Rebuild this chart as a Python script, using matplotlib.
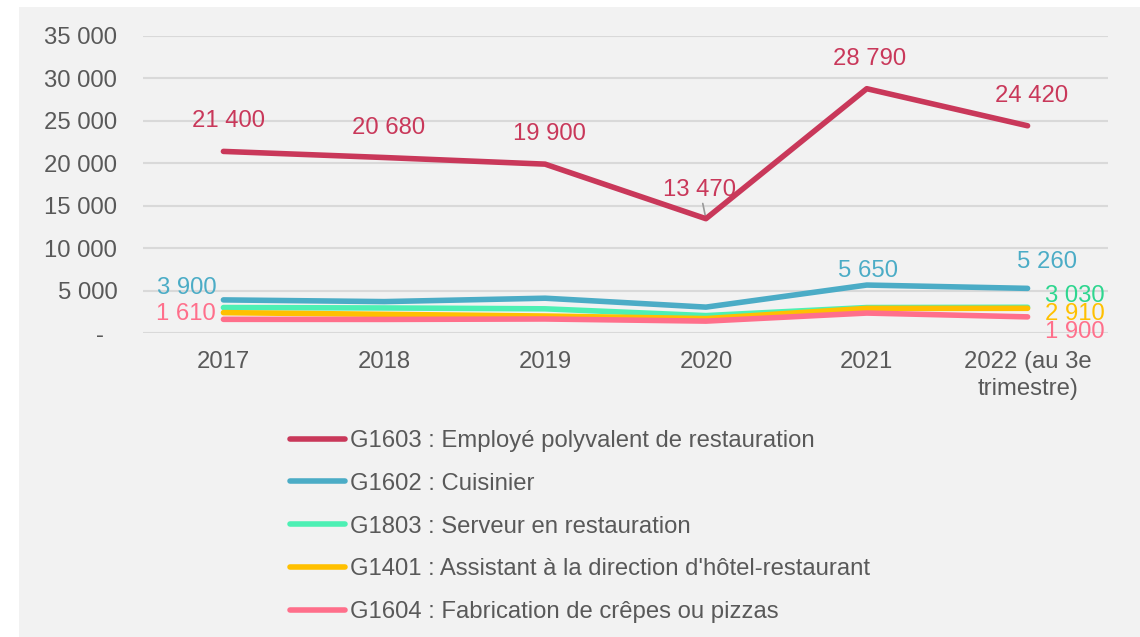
import matplotlib.pyplot as plt
from matplotlib.patches import Rectangle

years = ["2017", "2018", "2019", "2020", "2021", "2022 (au 3e\ntrimestre)"]

employe = [21400, 20680, 19900, 13470, 28790, 24420]
cuisinier = [3900, 3700, 4100, 3050, 5650, 5260]
serveur = [3000, 2950, 2850, 2050, 3000, 3030]
assistant = [2400, 2200, 2000, 1700, 2900, 2910]
crepes = [1610, 1600, 1650, 1400, 2350, 1900]

names = ["G1603 : Employé polyvalent de restauration",
         "G1602 : Cuisinier",
         "G1803 : Serveur en restauration",
         "G1401 : Assistant à la direction d'hôtel-restaurant",
         "G1604 : Fabrication de crêpes ou pizzas"]

yticks = [0, 5000, 10000, 15000, 20000, 25000, 30000, 35000]
ytick_labels = ["-  ", "5 000", "10 000", "15 000", "20 000", "25 000", "30 000", "35 000"]

plt.rcParams['font.family'] = ['Liberation Sans', 'DejaVu Sans']
txt = "#595959"
fs = 17.2

fig = plt.figure(figsize=(11.4, 6.37), dpi=100)
fig.patches.append(Rectangle((19 / 1140, 0), 1 - 19 / 1140, 1 - 7 / 637,
                             transform=fig.transFigure, facecolor="#f2f2f2",
                             edgecolor="none", zorder=-10))
ax = fig.add_axes([143 / 1140, 1 - 333 / 637, (1108 - 143) / 1140, (333 - 36) / 637])
ax.set_facecolor("none")

x = list(range(len(years)))
series = [(employe, "#c9385a", 4.0, 5),
          (cuisinier, "#4bacc6", 4.0, 4),
          (serveur, "#4df0b4", 4.0, 1),
          (assistant, "#ffc000", 4.0, 2),
          (crepes, "#ff6f8b", 4.0, 3)]
for (vals, col, lw, z), name in zip(series, names):
    ax.plot(x, vals, color=col, lw=lw, solid_capstyle="round", label=name, zorder=z)

ax.set_xlim(-0.5, 5.5)
ax.set_ylim(0, 35000)
ax.set_yticks(yticks)
ax.set_yticklabels(ytick_labels)
ax.set_xticks(x)
ax.set_xticklabels(years)
ax.tick_params(axis="y", length=0, pad=18.5, labelsize=fs, labelcolor=txt)
ax.tick_params(axis="x", length=0, pad=13, labelsize=fs, labelcolor=txt)
for lab in ax.get_xticklabels():
    lab.set_linespacing(1.3)
for s in ax.spines.values():
    s.set_visible(False)
ax.grid(axis="y", color="#d9d9d9", lw=1.5, zorder=0)
ax.set_axisbelow(True)


def lab(i, vals, text, dx, dy, col, **kw):
    ax.annotate(text, (x[i], vals[i]), xytext=(dx, dy), textcoords="offset pixels",
                ha="center", va="center", fontsize=fs, color=col, **kw)


red = "#c9385a"
lab(0, employe, "21 400", 5, 30, red)
lab(1, employe, "20 680", 4, 30, red)
lab(2, employe, "19 900", 4, 30, red)
lab(3, employe, "13 470", -6, 29, red,
    arrowprops=dict(arrowstyle="-", color="#999999", lw=1.2, shrinkA=0, shrinkB=0))
lab(4, employe, "28 790", 3, 30, red)
lab(5, employe, "24 420", 4, 30, red)

blue = "#4bacc6"
lab(0, cuisinier, "3 900", -37, 12, blue)
lab(4, cuisinier, "5 650", 1, 14, blue)
lab(5, cuisinier, "5 260", 19, 26, blue)
lab(5, serveur, "3 030", 47, 11, "#2ed68f")
lab(5, assistant, "2 910", 47, -6, "#ffc000")
lab(5, crepes, "1 900", 47, -15, "#ff6f8b")
lab(0, crepes, "1 610", -38, 5, "#ff6f8b")

leg = fig.legend(loc="upper left", bbox_to_anchor=(290 / 1140, 1 - 430 / 637),
                 frameon=False, fontsize=fs, handlelength=2.3, handletextpad=0.2,
                 labelspacing=0.87, borderaxespad=0, borderpad=0)
for t in leg.get_texts():
    t.set_color(txt)

fig.savefig("out.png", dpi=100, facecolor="white")
